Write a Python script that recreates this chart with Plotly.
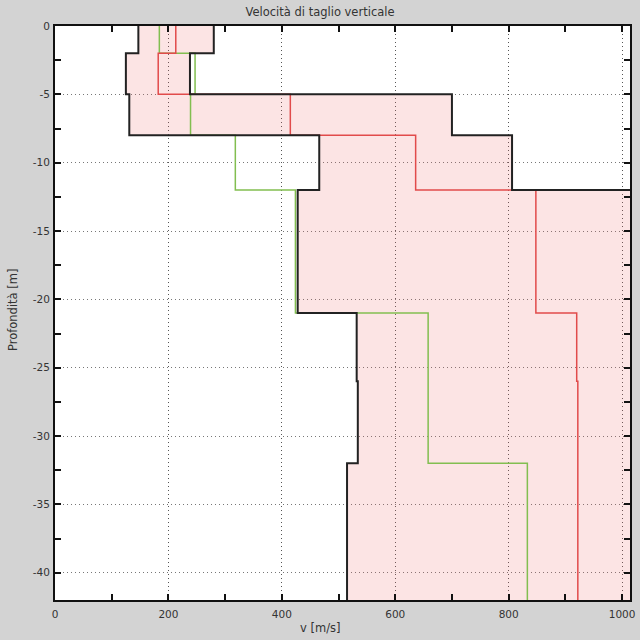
import plotly.graph_objects as go

# layer boundaries (depth, m, positive downward)
layer_bounds = [0, 2, 5, 8, 12, 21, 26, 32, 42]
# shear-wave velocity per layer [m/s]
vs_min = [147, 125, 131, 466, 428, 532, 534, 515]
vs_max = [280, 238, 700, 806, 1269, 1308, 1310, 1329]
vs_mean = [213, 182, 415, 636, 848, 920, 922, 922]
vs_ref = [184, 247, 239, 318, 424, 658, 658, 833]

x_ticks = [0, 200, 400, 600, 800, 1000]
y_ticks = [0, -5, -10, -15, -20, -25, -30, -35, -40]
y_ticklabels = ["0", "-5", "-10", "-15", "-20", "-25", "-30", "-35", "-40"]


def step_profile(values):
    xs, ys = [], []
    for i, v in enumerate(values):
        xs += [v, v]
        ys += [-layer_bounds[i], -layer_bounds[i + 1]]
    return xs, ys


mnx, mny = step_profile(vs_min)
mxx, mxy = step_profile(vs_max)
mex, mey = step_profile(vs_mean)
rfx, rfy = step_profile(vs_ref)

fig = go.Figure()
fig.add_trace(go.Scatter(
    x=mnx + mxx[::-1], y=mny + mxy[::-1], mode="none", fill="toself",
    fillcolor="rgba(238,100,100,0.175)", hoverinfo="skip", showlegend=False))
fig.add_trace(go.Scatter(x=rfx, y=rfy, mode="lines",
                         line=dict(color="rgb(130,190,80)", width=1.5), showlegend=False))
fig.add_trace(go.Scatter(x=mex, y=mey, mode="lines",
                         line=dict(color="rgb(225,75,75)", width=1.5), showlegend=False))
fig.add_trace(go.Scatter(x=mnx, y=mny, mode="lines",
                         line=dict(color="#222222", width=2), showlegend=False))
fig.add_trace(go.Scatter(x=mxx, y=mxy, mode="lines",
                         line=dict(color="#222222", width=2), showlegend=False))

font = dict(family="DejaVu Sans", size=10.5, color="#333333")
tfont = dict(family="DejaVu Sans", size=11.5, color="#333333")

fig.update_layout(
    width=640, height=640,
    margin=dict(l=55, r=10, t=26, b=40, autoexpand=False),
    paper_bgcolor="#d3d3d3", plot_bgcolor="white",
    font=font,
    title=dict(text="Velocità di taglio verticale", x=0.5, xref="container",
               y=0.981, yref="container", yanchor="middle", font=tfont),
    xaxis=dict(range=[0, 1014], tickvals=x_ticks, ticks="inside", ticklen=6,
               tickwidth=1.5, tickcolor="#111111", automargin=False,
               ticklabelstandoff=3,
               minor=dict(dtick=100, tick0=0, ticks="inside", ticklen=6,
                          tickwidth=1.5, tickcolor="#111111", showgrid=False),
               showline=True, linecolor="#111111", linewidth=2, mirror="ticks",
               showgrid=True, gridcolor="#555555", griddash="1px,3px", gridwidth=1,
               zeroline=False, tickfont=font),
    yaxis=dict(range=[-42, 0], tickvals=y_ticks, ticktext=y_ticklabels,
               ticks="inside", ticklen=6, tickwidth=1.5, tickcolor="#111111",
               automargin=False, ticklabelstandoff=1,
               minor=dict(dtick=2.5, tick0=0, ticks="inside", ticklen=6,
                          tickwidth=1.5, tickcolor="#111111", showgrid=False),
               showline=True, linecolor="#111111", linewidth=2, mirror="ticks",
               showgrid=True, gridcolor="#777777", griddash="1px,3px", gridwidth=1,
               zeroline=False, tickfont=font),
)
fig.add_annotation(text="v [m/s]", xref="paper", yref="paper",
                   x=(320 - 55) / 575, y=-(628 - 600) / 574, showarrow=False,
                   xanchor="center", yanchor="middle", font=tfont)
fig.add_annotation(text="Profondità [m]", xref="paper", yref="paper",
                   x=-(55 - 13) / 575, y=(600 - 310) / 574, showarrow=False,
                   textangle=-90, xanchor="center", yanchor="middle", font=tfont)

fig.write_html("out.html")
